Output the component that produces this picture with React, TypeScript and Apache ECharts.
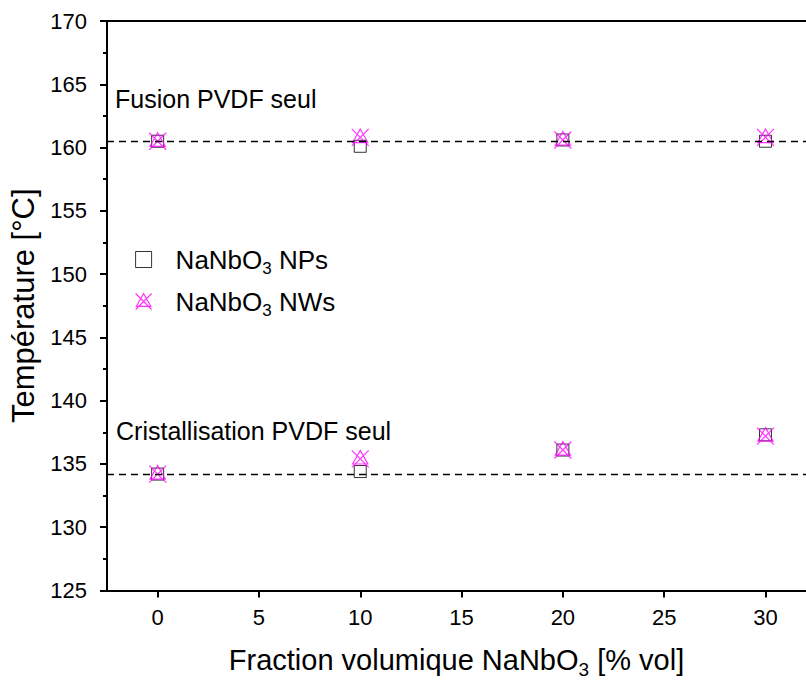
import React, { useEffect, useRef } from "react";
import * as echarts from "echarts";

const fractions = [0, 10, 20, 30];
const fusionNPs = [160.5, 160.1, 160.6, 160.5];
const fusionNWs = [160.5, 160.8, 160.6, 160.8];
const crystNPs = [134.2, 134.4, 136.1, 137.3];
const crystNWs = [134.2, 135.4, 136.1, 137.2];
const fusionRef = 160.5;
const crystRef = 134.2;
const yTicks = [125, 130, 135, 140, 145, 150, 155, 160, 165, 170];
const xTicks = [0, 5, 10, 15, 20, 25, 30];

const NW_SYMBOL = "path://M0 0 L20 20 M20 0 L0 20 M10 0 L19 16 L1 16 Z";
const FONT = "Liberation Sans, Arial, sans-serif";

export default function App() {
  const ref = useRef<HTMLDivElement>(null);
  useEffect(() => {
    const chart = echarts.init(ref.current!, null, { renderer: "svg" });
    const pairs = (ys: number[]) => fractions.map((x, i) => [x, ys[i]]);
    const npStyle = { color: "rgba(0,0,0,0)", borderColor: "#000", borderWidth: 1 };
    const nwStyle = { color: "rgba(0,0,0,0)", borderColor: "#ff00ff", borderWidth: 1.2 };
    const rich = {
      a: { fontSize: 26, fontFamily: FONT, color: "#000", lineHeight: 32 },
      s: { fontSize: 17, fontFamily: FONT, color: "#000", lineHeight: 17, padding: [18, 0, 0, 0] },
    };
    const richT = {
      a: { fontSize: 29, fontFamily: FONT, color: "#000", lineHeight: 34 },
      s: { fontSize: 19, fontFamily: FONT, color: "#000", lineHeight: 19, padding: [20, 0, 0, 0] },
    };
    chart.setOption({
      animation: false,
      grid: { left: 107, top: 21, right: 0, bottom: 92 },
      xAxis: [
        {
          type: "value",
          min: -2.5,
          max: 32,
          interval: 5,
          name: "{a|Fraction volumique NaNbO}{s|3}{a| [% vol]}",
          nameLocation: "middle",
          nameGap: 52,
          nameTextStyle: { rich: richT },
          axisLine: { show: true, onZero: false, lineStyle: { color: "#000", width: 2 } },
          axisTick: { show: true, length: 7, lineStyle: { color: "#000", width: 2 }, customValues: xTicks },
          minorTick: { show: true, splitNumber: 2, length: 4, lineStyle: { color: "#000", width: 2 } },
          axisLabel: {
            fontSize: 22,
            fontFamily: FONT,
            color: "#000",
            margin: 16,
            customValues: xTicks,
          },
          splitLine: { show: false },
        },
        {
          type: "value",
          position: "top",
          min: -2.5,
          max: 32,
          axisLine: { show: true, onZero: false, lineStyle: { color: "#000", width: 2 } },
          axisTick: { show: false },
          axisLabel: { show: false },
          splitLine: { show: false },
        },
      ],
      yAxis: {
        type: "value",
        min: 125,
        max: 170,
        interval: 5,
        name: "Température [°C]",
        nameLocation: "middle",
        nameGap: 64,
        nameTextStyle: { fontSize: 31, fontFamily: FONT, color: "#000" },
        axisLine: { show: true, onZero: false, lineStyle: { color: "#000", width: 2 } },
        axisTick: { show: true, length: 7, lineStyle: { color: "#000", width: 2 } },
        minorTick: { show: true, splitNumber: 2, length: 4, lineStyle: { color: "#000", width: 2 } },
        axisLabel: { fontSize: 22, fontFamily: FONT, color: "#000", margin: 20, customValues: yTicks },
        splitLine: { show: false },
      },
      legend: {
        orient: "vertical",
        left: 130,
        top: 237,
        itemGap: 7,
        itemWidth: 16,
        itemHeight: 16,
        formatter: (name: string) =>
          name === "NPs" ? "{a|NaNbO}{s|3}{a| NPs}" : "{a|NaNbO}{s|3}{a| NWs}",
        textStyle: { rich, padding: [0, 0, 0, 19] },
        data: [
          { name: "NPs", icon: "rect", itemStyle: npStyle },
          { name: "NWs", icon: NW_SYMBOL, itemStyle: nwStyle },
        ],
      },
      graphic: [
        {
          type: "text",
          left: 115,
          top: 86,
          style: { text: "Fusion PVDF seul", fontSize: 25, fontFamily: FONT, fill: "#000" },
        },
        {
          type: "text",
          left: 116,
          top: 418,
          style: { text: "Cristallisation PVDF seul", fontSize: 25, fontFamily: FONT, fill: "#000" },
        },
      ],
      series: [
        {
          name: "NPs",
          type: "scatter",
          data: pairs(fusionNPs),
          symbol: "rect",
          symbolSize: 12,
          itemStyle: npStyle,
          z: 3,
          markLine: {
            silent: true,
            symbol: "none",
            label: { show: false },
            lineStyle: { color: "#000", type: [7, 5], width: 1.3 },
            data: [{ yAxis: fusionRef }, { yAxis: crystRef }],
          },
        },
        {
          name: "NPs",
          type: "scatter",
          data: pairs(crystNPs),
          symbol: "rect",
          symbolSize: 12,
          itemStyle: npStyle,
          z: 3,
        },
        {
          name: "NWs",
          type: "scatter",
          data: pairs(fusionNWs),
          symbol: NW_SYMBOL,
          symbolSize: 17,
          itemStyle: nwStyle,
          z: 4,
        },
        {
          name: "NWs",
          type: "scatter",
          data: pairs(crystNWs),
          symbol: NW_SYMBOL,
          symbolSize: 17,
          itemStyle: nwStyle,
          z: 4,
        },
      ],
    });
    return () => chart.dispose();
  }, []);
  return <div ref={ref} style={{ width: 806, height: 684, position: "absolute", left: 0, top: 0 }} />;
}
